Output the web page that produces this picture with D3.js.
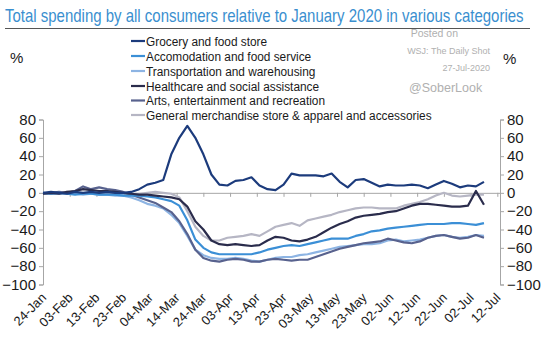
<!DOCTYPE html>
<html>
<head>
<meta charset="utf-8">
<script src="https://cdn.jsdelivr.net/npm/d3@7"></script>
<style>
  body { margin: 0; background: #fff; }
  svg text { font-family: "Liberation Sans", Arial, sans-serif; }
</style>
</head>
<body>
<svg id="chart" width="541" height="360"></svg>
<script>
// every 3 days from 24-Jan-2020
const dates = [
  "2020-01-24","2020-01-27","2020-01-30","2020-02-02","2020-02-05","2020-02-08","2020-02-11","2020-02-14",
  "2020-02-17","2020-02-20","2020-02-23","2020-02-26","2020-02-29","2020-03-03","2020-03-06","2020-03-09",
  "2020-03-12","2020-03-15","2020-03-18","2020-03-21","2020-03-24","2020-03-27","2020-03-30","2020-04-02",
  "2020-04-05","2020-04-08","2020-04-11","2020-04-14","2020-04-17","2020-04-20","2020-04-23","2020-04-26",
  "2020-04-29","2020-05-02","2020-05-05","2020-05-08","2020-05-11","2020-05-14","2020-05-17","2020-05-20",
  "2020-05-23","2020-05-26","2020-05-29","2020-06-01","2020-06-04","2020-06-07","2020-06-10","2020-06-13",
  "2020-06-16","2020-06-19","2020-06-22","2020-06-25","2020-06-28","2020-07-01","2020-07-04","2020-07-07"
];

const grocery = [0,1,0,-1,1,0,1,0,1,0,0,1,4,9,11,14,42,60,73,60,42,20,9,8,
  13,14,17,8,4,3,9,21,19,19,19,18,21,12,6,14,15,11,7,9,8,8,9,8,5,9,13,10,6,8,7,12];
const accommodation = [0,-1,0,-1,-2,-1,-1,-2,-2,-2,-3,-3,-3,-4,-5,-7,-9,-14,-30,-51,-60,-65,-67,-67,
  -67,-67,-67,-65,-62,-60,-58,-57,-58,-56,-54,-52,-50,-50,-50,-47,-45,-42,-41,-39,-38,-37,-36,-35,-34,-34,-34,-33,-33,-34,-35,-33];
const transportation = [0,-1,-1,0,-1,-2,-1,-2,-2,-3,-3,-5,-8,-12,-14,-17,-24,-33,-47,-62,-68,-71,-72,-72,
  -71,-72,-74,-75,-73,-71,-70,-70,-68,-67,-65,-63,-61,-59,-58,-57,-56,-56,-55,-52,-51,-53,-52,-51,-49,-47,-46,-48,-49,-48,-46,-47];
const healthcare = [-1,0,-1,1,2,4,3,2,2,1,0,-1,-2,-2,-3,-4,-5,-7,-15,-31,-40,-52,-56,-57,
  -56,-57,-58,-57,-52,-48,-49,-52,-53,-51,-48,-43,-38,-34,-31,-27,-25,-24,-23,-21,-20,-17,-14,-12,-12,-13,-14,-15,-15,-14,2,-13];
const arts = [-1,0,1,0,2,7,4,6,4,3,1,-2,-5,-8,-11,-16,-21,-31,-45,-62,-71,-74,-75,-73,
  -72,-73,-75,-75,-73,-72,-73,-74,-73,-73,-70,-67,-64,-61,-59,-57,-55,-54,-53,-50,-52,-54,-55,-53,-49,-47,-46,-48,-50,-49,-46,-49];
const general = [0,-1,0,1,0,-1,0,-1,-1,-2,-2,-1,-1,0,1,0,-1,-5,-20,-37,-47,-52,-52,-49,
  -48,-47,-45,-47,-42,-37,-35,-33,-36,-30,-28,-26,-24,-21,-19,-17,-16,-16,-17,-17,-17,-14,-12,-10,-7,-3,0,-3,-4,-3,-2,-2];

const seriesNames = [
  "Grocery and food store",
  "Accomodation and food service",
  "Transportation and warehousing",
  "Healthcare and social assistance",
  "Arts, entertainment and recreation",
  "General merchandise store & apparel and accessories"
];
const seriesColors = ["#1c3b7c", "#3b8fd6", "#8db4e3", "#2a2c4c", "#58628e", "#b6b6c4"];
const seriesValues = [grocery, accommodation, transportation, healthcare, arts, general];
// drawing order: back to front
const drawOrder = [5, 2, 4, 1, 3, 0];

const yTicks = [80, 60, 40, 20, 0, -20, -40, -60, -80, -100];
const xTickLabels = ["24-Jan","03-Feb","13-Feb","23-Feb","04-Mar","14-Mar","24-Mar","03-Apr","13-Apr",
  "23-Apr","03-May","13-May","23-May","02-Jun","12-Jun","22-Jun","02-Jul","12-Jul"];

const parse = d3.timeParse("%Y-%m-%d");
const parseTick = d3.timeParse("%d-%b-%Y");

const svg = d3.select("#chart");
const plotLeft = 43, plotRight = 500, plotTop = 119.5, plotBottom = 284.5;
const axisColor = "#a6a6a6";
const labelColor = "#1a1a1a";

const x = d3.scaleTime()
  .domain([parse("2020-01-24"), parse("2020-07-13")])
  .range([plotLeft, plotRight]);
const y = d3.scaleLinear().domain([-100, 80]).range([plotBottom, plotTop]);

// title: font sized to fit the width, then stretched upward to the taller look of the original
const title = svg.append("text")
  .attr("x", 0).attr("y", 0)
  .attr("font-size", 18)
  .attr("fill", "#3a8fcf")
  .text("Total spending by all consumers relative to January 2020 in various categories");
const titleFs = 18 * 519 / title.node().getComputedTextLength();
title.attr("font-size", titleFs)
  .attr("transform", `translate(5,22) scale(1,${18 / titleFs})`);

svg.append("line")
  .attr("x1", 5).attr("x2", 530).attr("y1", 28.5).attr("y2", 28.5)
  .attr("stroke", "#555").attr("stroke-width", 1);

// watermark
const wm = svg.append("g").attr("fill", "#b0b0b0");
wm.append("text").attr("x", 458).attr("y", 37).attr("text-anchor", "end").attr("font-size", 10.5).text("Posted on");
wm.append("text").attr("x", 490).attr("y", 54).attr("text-anchor", "end").attr("font-size", 9).text("WSJ: The Daily Shot");
wm.append("text").attr("x", 490).attr("y", 71).attr("text-anchor", "end").attr("font-size", 9).text("27-Jul-2020");
wm.append("text").attr("x", 409).attr("y", 92).attr("font-size", 12.5).text("@SoberLook");

// % labels
svg.append("text").attr("x", 10).attr("y", 63).attr("font-size", 15).attr("fill", labelColor).text("%");
svg.append("text").attr("x", 503).attr("y", 64).attr("font-size", 15).attr("fill", labelColor).text("%");

// legend
const legend = svg.append("g").attr("transform", "translate(131,0)");
const legendY = [41, 56, 71, 86, 100.5, 115];
const legItems = legend.selectAll("g").data(seriesNames).join("g")
  .attr("transform", (d, i) => `translate(0,${legendY[i]})`);
legItems.append("line")
  .attr("x1", 0).attr("x2", 14)
  .attr("stroke", (d, i) => seriesColors[i]).attr("stroke-width", 2.2);
const legTexts = legItems.append("text")
  .attr("x", 15).attr("y", 4.5)
  .attr("font-size", 13.5)
  .attr("fill", labelColor)
  .text(d => d);
// squeeze legend text to the narrow look of the original
const longest = legTexts.nodes()[5].getComputedTextLength();
const k = 286 / longest;
legTexts.attr("transform", `translate(15,0) scale(${k},1) translate(-15,0)`);

// axes
const yLeft = svg.append("g").attr("transform", `translate(${plotLeft},0)`)
  .call(d3.axisLeft(y).tickValues(yTicks).tickSize(4).tickPadding(3).tickFormat(d3.format("d")));
const yRight = svg.append("g").attr("transform", `translate(${plotRight},0)`)
  .call(d3.axisRight(y).tickValues(yTicks).tickSize(4).tickPadding(3).tickFormat(d3.format("d")));
[yLeft, yRight].forEach(g => {
  g.select(".domain").attr("stroke", axisColor);
  g.selectAll(".tick line").attr("stroke", axisColor);
  g.selectAll(".tick text").attr("font-size", 15).attr("fill", labelColor)
    .attr("font-family", "Liberation Sans, Arial, sans-serif");
});

// zero line with day ticks
const tickDates = xTickLabels.map(s => parseTick(s + "-2020"));
const xAxis = svg.append("g").attr("transform", `translate(0,${y(0)})`)
  .call(d3.axisBottom(x).tickValues(tickDates).tickSize(4).tickSizeOuter(0).tickFormat(""));
xAxis.select(".domain").attr("stroke", axisColor);
xAxis.selectAll(".tick line").attr("stroke", axisColor);

// rotated date labels
svg.append("g").selectAll("text").data(tickDates).join("text")
  .attr("transform", d => `translate(${x(d) + 4},${plotBottom + 14}) rotate(-45)`)
  .attr("text-anchor", "end")
  .attr("font-size", 13)
  .attr("fill", labelColor)
  .text((d, i) => xTickLabels[i]);

// lines
const line = d3.line()
  .x((d, i) => x(parse(dates[i])))
  .y(d => y(d));

svg.append("g").selectAll("path").data(drawOrder).join("path")
  .attr("d", i => line(seriesValues[i]))
  .attr("fill", "none")
  .attr("stroke", i => seriesColors[i])
  .attr("stroke-width", 2.2)
  .attr("stroke-linejoin", "round");
</script>
</body>
</html>
